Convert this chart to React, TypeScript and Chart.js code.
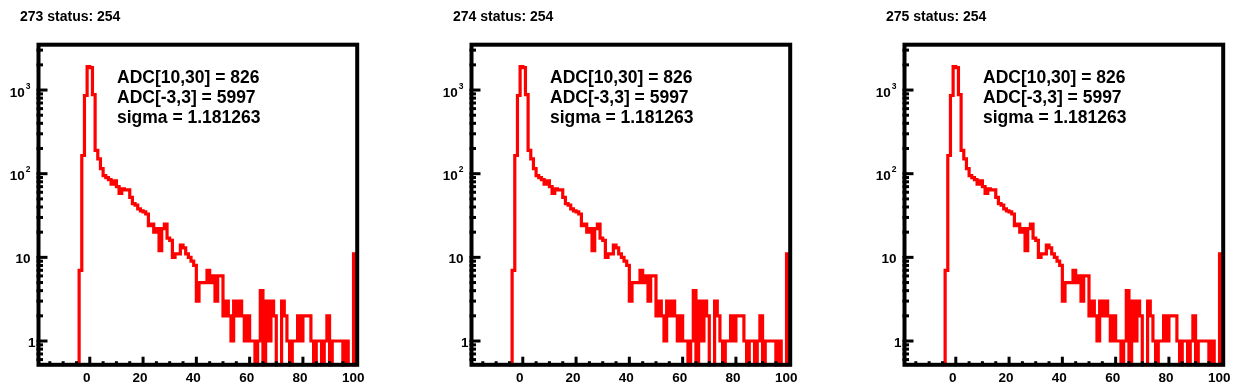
import { useEffect, useRef } from "react";
import { Chart, registerables } from "chart.js";

Chart.register(...registerables);

// ---- data ----
const PANEL_TITLES = ["273 status: 254", "274 status: 254", "275 status: 254"];
const STATS_LINES = ["ADC[10,30] = 826", "ADC[-3,3] = 5997", "sigma = 1.181263"];

// histogram: unit-width bins, first bin starts at FIRST_BIN
const FIRST_BIN = -4;
const BIN_COUNTS = [
  7, 165, 860, 1900, 1850, 880, 190, 150, 115, 95,
  90, 85, 75, 82, 70, 58, 66, 64, 64, 52,
  44, 42, 38, 36, 35, 33, 24, 25, 20, 22,
  12, 22, 25, 17, 16, 10, 11, 11, 14, 13,
  11, 10, 9, 8, 3, 5, 5, 5, 7, 5,
  6, 3, 6, 6, 2, 3, 2, 1, 3, 2,
  3, 2, 1, 2, 1, 1, 0, 1, 4, 0,
  3, 1, 3, 2, 0, 0, 3, 2, 1, 0,
  1, 1, 2, 1, 2, 2, 2, 1, 0, 1,
  1, 0, 1, 2, 0, 1, 1, 1, 1, 0,
  1, 0, 0, 11,
];

const X_MIN = -20;
const X_MAX = 100;
const Y_MIN = 0.5;
const Y_MAX = 3600;
const X_MAJOR_TICKS = [0, 20, 40, 60, 80, 100];
const X_MINOR_STEP = 5;
const Y_MAJOR_TICKS = [1, 10, 100, 1000];
const Y_TICK_BASES = ["1", "10", "10", "10"];
const Y_TICK_EXPONENTS = ["", "", "2", "3"];

const FONT = '"Liberation Sans", Arial, Helvetica, sans-serif';
const FLOOR = 0.1; // empty bins drop below the axis minimum

function Panel({ title, left }: { title: string; left: number }) {
  const ref = useRef<HTMLCanvasElement | null>(null);

  useEffect(() => {
    const canvas = ref.current;
    if (!canvas) return;

    const points: { x: number; y: number }[] = [{ x: FIRST_BIN, y: FLOOR }];
    BIN_COUNTS.forEach((c, i) => points.push({ x: FIRST_BIN + i, y: c > 0 ? c : FLOOR }));
    points.push({ x: FIRST_BIN + BIN_COUNTS.length, y: FLOOR });

    const overlay = {
      id: "rootFrame",
      afterDatasetsDraw(chart: any) {
        const { ctx, chartArea: a, scales } = chart;
        const xs = scales.x;
        const ys = scales.y;
        ctx.save();
        ctx.strokeStyle = "#000";
        ctx.fillStyle = "#000";
        ctx.lineCap = "butt";

        const seg = (x1: number, y1: number, x2: number, y2: number) => {
          ctx.beginPath();
          ctx.moveTo(x1, y1);
          ctx.lineTo(x2, y2);
          ctx.stroke();
        };

        // x ticks (inward)
        ctx.lineWidth = 3;
        for (let v = X_MIN + X_MINOR_STEP; v < X_MAX; v += X_MINOR_STEP) {
          const px = xs.getPixelForValue(v);
          const len = X_MAJOR_TICKS.includes(v) ? 9.5 : 5;
          seg(px, a.bottom, px, a.bottom - len);
        }
        // y ticks (inward)
        for (let e = -1; e <= 3; e++) {
          for (let m = 1; m <= 9; m++) {
            const v = m * Math.pow(10, e);
            if (v <= Y_MIN || v >= Y_MAX) continue;
            const py = ys.getPixelForValue(v);
            const len = Y_MAJOR_TICKS.some((t) => Math.abs(t - v) < 1e-9) ? 11 : 6.5;
            seg(a.left, py, a.left + len, py);
          }
        }

        // frame
        ctx.lineWidth = 4;
        ctx.strokeRect(a.left + 2, a.top + 1.2, a.right + 1 - (a.left + 2), a.bottom - 1.4 - (a.top + 1.2));

        // x labels
        ctx.font = `bold 13.5px ${FONT}`;
        ctx.textAlign = "center";
        ctx.textBaseline = "alphabetic";
        X_MAJOR_TICKS.forEach((v) => {
          ctx.fillText(String(v), xs.getPixelForValue(v) - 3, a.bottom + 15.5);
        });

        // y labels
        Y_MAJOR_TICKS.forEach((v, i) => {
          const py = ys.getPixelForValue(v);
          const base = Y_TICK_BASES[i];
          const exp = Y_TICK_EXPONENTS[i];
          const rightX = a.left - 6;
          if (exp) {
            ctx.font = `bold 8.5px ${FONT}`;
            ctx.textAlign = "right";
            ctx.fillText(exp, rightX, py - 1.5);
            const w = ctx.measureText(exp).width;
            ctx.font = `bold 13.5px ${FONT}`;
            ctx.fillText(base, rightX - w - 1, py + 6.7);
          } else {
            ctx.font = `bold 13.5px ${FONT}`;
            ctx.textAlign = "right";
            ctx.fillText(base, base.length === 1 ? a.left - 1 : rightX, py + 5.5);
          }
        });

        // title
        ctx.textAlign = "left";
        ctx.font = `bold 14px ${FONT}`;
        ctx.fillText(title, a.left - 16.5, 21);

        // statistics text
        ctx.font = `bold 17.5px ${FONT}`;
        const offsets = [39, 59.2, 79.5];
        STATS_LINES.forEach((line, i) => {
          ctx.fillText(line, a.left + 80.5, a.top + offsets[i]);
        });

        ctx.restore();
      },
    };

    const chart = new Chart(canvas, {
      type: "line",
      data: {
        datasets: [
          {
            data: points,
            borderColor: "#ff0000",
            borderWidth: 3.2,
            pointRadius: 0,
            stepped: "before",
            fill: false,
            tension: 0,
            borderJoinStyle: "miter",
          } as any,
        ],
      },
      options: {
        animation: false,
        responsive: false,
        devicePixelRatio: 1,
        events: [],
        layout: { padding: { left: 36.5, top: 43.5, right: 23.8, bottom: 25.8 }, autoPadding: false } as any,
        plugins: {
          legend: { display: false },
          tooltip: { enabled: false },
          title: { display: false },
        },
        scales: {
          x: { type: "linear", min: X_MIN, max: X_MAX, display: false },
          y: { type: "logarithmic", min: Y_MIN, max: Y_MAX, display: false },
        },
      },
      plugins: [overlay],
    });

    return () => chart.destroy();
  }, [title]);

  return (
    <canvas
      ref={ref}
      width={380}
      height={392}
      style={{ position: "absolute", left, top: 0, width: 380, height: 392 }}
    />
  );
}

export default function App() {
  return (
    <div
      style={{
        position: "fixed",
        left: 0,
        top: 0,
        width: 1247,
        height: 392,
        overflow: "hidden",
        background: "#fff",
      }}
    >
      {PANEL_TITLES.map((t, i) => (
        <Panel key={t} title={t} left={i * 433} />
      ))}
    </div>
  );
}
